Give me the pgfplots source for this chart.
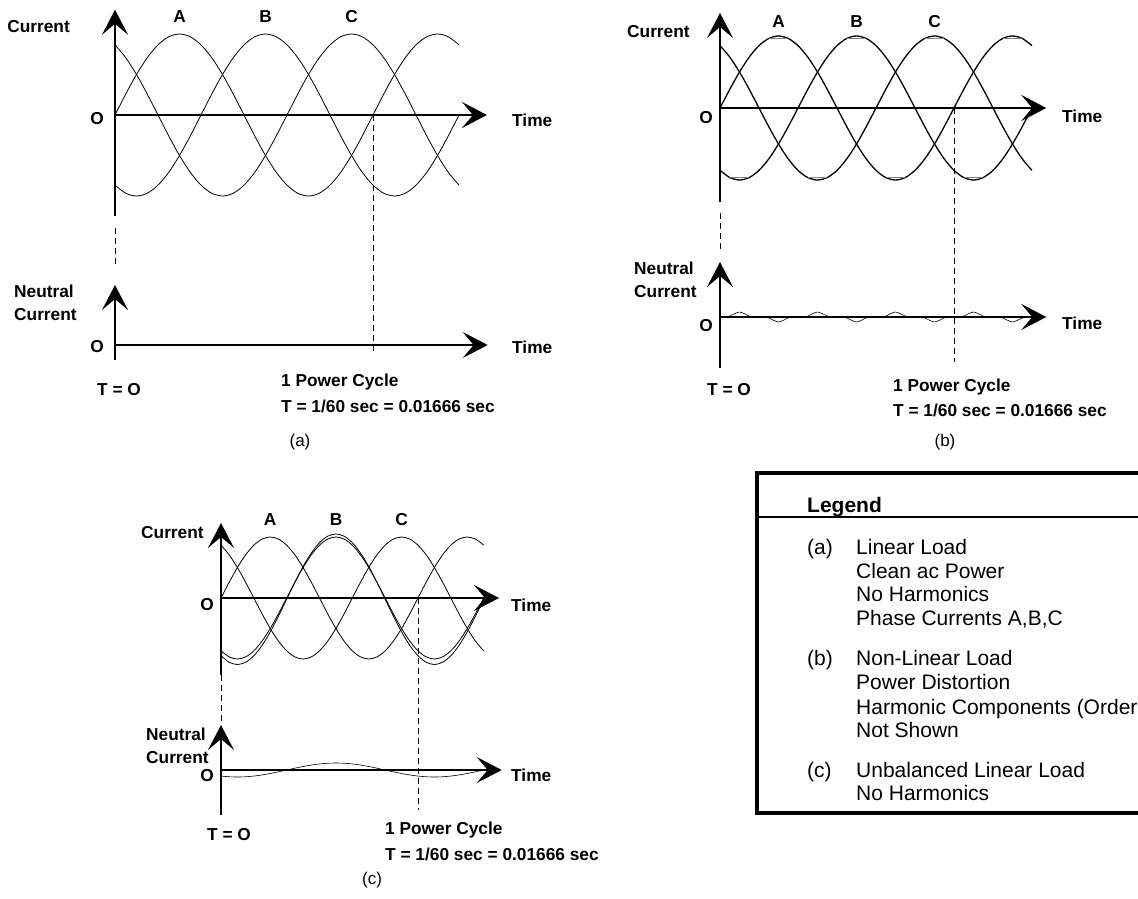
\documentclass[border=0pt]{standalone}
\usepackage{fontspec}
\setmainfont{Liberation Sans}
\usepackage{pgfplots}
\pgfplotsset{compat=1.18}
\usepackage{pgfplotstable}
\usetikzlibrary{arrows.meta}

% phase currents (per unit), angle in degrees; Bu = unbalanced phase B; Nc = neutral of (c) in px
\pgfplotstableread{
t A B C Bu Nc
0 0 -0.8660 0.8660 -0.9466 -6.06
15 0.2588 -0.9659 0.7071 -1.0535 -6.76
30 0.5 -1 0.5 -1.09 -7
45 0.7071 -0.9659 0.2588 -1.0535 -6.76
60 0.8660 -0.8660 0 -0.9466 -6.06
75 0.9659 -0.7071 -0.2588 -0.7766 -4.95
90 1 -0.5 -0.5 -0.555 -3.5
105 0.9659 -0.2588 -0.7071 -0.2969 -1.81
120 0.8660 0 -0.8660 -0.02 0
135 0.7071 0.2588 -0.9659 0.2569 1.81
150 0.5 0.5 -1 0.515 3.5
165 0.2588 0.7071 -0.9659 0.7366 4.95
180 0 0.8660 -0.8660 0.9066 6.06
195 -0.2588 0.9659 -0.7071 1.0135 6.76
210 -0.5 1 -0.5 1.05 7
225 -0.7071 0.9659 -0.2588 1.0135 6.76
240 -0.8660 0.8660 0 0.9066 6.06
255 -0.9659 0.7071 0.2588 0.7366 4.95
270 -1 0.5 0.5 0.515 3.5
285 -0.9659 0.2588 0.7071 0.2569 1.81
300 -0.8660 0 0.8660 -0.02 0
315 -0.7071 -0.2588 0.9659 -0.2969 -1.81
330 -0.5 -0.5 1 -0.555 -3.5
345 -0.2588 -0.7071 0.9659 -0.7766 -4.95
360 0 -0.8660 0.8660 -0.9466 -6.06
375 0.2588 -0.9659 0.7071 -1.0535 -6.76
390 0.5 -1 0.5 -1.09 -7
405 0.7071 -0.9659 0.2588 -1.0535 -6.76
420 0.8660 -0.8660 0 -0.9466 -6.06
435 0.9659 -0.7071 -0.2588 -0.7766 -4.95
450 1 -0.5 -0.5 -0.555 -3.5
465 0.9659 -0.2588 -0.7071 -0.2969 -1.81
480 0.8660 0 -0.8660 -0.02 0
}\phases

% neutral current of (b): third-harmonic ripple, px
\pgfplotstableread{
t N
0 0
10 0
20 2.5
30 5
40 2.5
50 0
70 0
80 -2.5
90 -5
100 -2.5
110 0
130 0
140 2.5
150 5
160 2.5
170 0
190 0
200 -2.5
210 -5
220 -2.5
230 0
250 0
260 2.5
270 5
280 2.5
290 0
310 0
320 -2.5
330 -5
340 -2.5
350 0
370 0
380 2.5
390 5
400 2.5
410 0
430 0
440 -2.5
450 -5
460 -2.5
470 0
480 0
}\neutralb

\tikzset{
  ax/.style={line width=2.6pt, -{Stealth[length=25pt,width=26pt,inset=11pt]}},
  lbl/.style={font=\bfseries\fontsize{17.3}{20}\selectfont, inner sep=0pt},
  lbl2/.style={font=\bfseries\fontsize{17.3}{23}\selectfont, inner sep=0pt, anchor=west, align=left},
  capt/.style={font=\fontsize{17}{20}\selectfont, inner sep=0pt},
  leg/.style={font=\fontsize{21}{24}\selectfont, inner sep=0pt, anchor=base west},
  dsh/.style={line width=0.8pt, dash pattern=on 6pt off 4pt},
}
\pgfplotsset{
  panel/.style={hide axis, clip=false, anchor=origin},
  curve/.style={black, line width=0.8pt, smooth, mark=none},
}

\begin{document}
\begin{tikzpicture}
\useasboundingbox (0pt,0pt) rectangle (1138pt,-899pt);
\clip (0pt,0pt) rectangle (1138pt,-899pt);

% ================= (a) =================
\begin{axis}[panel, at={(115pt,-115pt)}, x=0.7167pt, y=81pt, xmin=0, xmax=520, ymin=-1.3, ymax=1.3]
\addplot[curve] table[x=t,y=A]{\phases};
\addplot[curve] table[x=t,y=B]{\phases};
\addplot[curve] table[x=t,y=C]{\phases};
\draw[ax] (axis cs:0,-1.25) -- (axis cs:0,1.30);
\draw[ax] (axis cs:0,0) -- (axis cs:519,0);
\end{axis}
\begin{axis}[panel, at={(115pt,-345pt)}, x=0.7167pt, y=1pt, xmin=0, xmax=520, ymin=-15, ymax=60]
\addplot[curve] coordinates {(0,0) (480,0)};
\draw[ax] (axis cs:0,-15) -- (axis cs:0,60);
\draw[ax] (axis cs:0,0) -- (axis cs:520,0);
\end{axis}
\draw[dsh] (115pt,-228pt) -- (115pt,-268pt);
\draw[dsh] (373pt,-115pt) -- (373pt,-355pt);
\node[lbl, anchor=east] at (70pt,-27pt) {Current};
\node[lbl] at (179.5pt,-17pt) {A};
\node[lbl] at (265.5pt,-17pt) {B};
\node[lbl] at (351.5pt,-17pt) {C};
\node[lbl] at (97pt,-119pt) {O};
\node[lbl, anchor=west] at (512pt,-120pt) {Time};
\node[lbl2] at (14pt,-303pt) {Neutral\\Current};
\node[lbl] at (97pt,-347pt) {O};
\node[lbl, anchor=west] at (512pt,-347pt) {Time};
\node[lbl, anchor=west] at (97pt,-390pt) {T = O};
\node[lbl, anchor=west] at (281pt,-382pt) {1 Power Cycle};
\node[lbl, anchor=west] at (281pt,-406pt) {T = 1/60 sec = 0.01666 sec};
\node[capt] at (300pt,-442pt) {(a)};

% ================= (b) =================
\begin{axis}[panel, at={(720pt,-108pt)}, x=0.65pt, y=72pt, xmin=0, xmax=505, ymin=-1.35, ymax=1.35]
\addplot[curve, line width=1.3pt] table[x=t,y=A]{\phases};
\addplot[curve, line width=1.3pt] table[x=t,y=B]{\phases};
\addplot[curve, line width=1.3pt] table[x=t,y=C]{\phases};
\addplot[gray, line width=0.6pt, mark=none] coordinates {(75,0.965) (105,0.965)};
\addplot[gray, line width=0.6pt, mark=none] coordinates {(435,0.965) (465,0.965)};
\addplot[gray, line width=0.6pt, mark=none] coordinates {(195,0.965) (225,0.965)};
\addplot[gray, line width=0.6pt, mark=none] coordinates {(315,0.965) (345,0.965)};
\addplot[gray, line width=0.6pt, mark=none] coordinates {(15,-0.965) (45,-0.965)};
\addplot[gray, line width=0.6pt, mark=none] coordinates {(135,-0.965) (165,-0.965)};
\addplot[gray, line width=0.6pt, mark=none] coordinates {(255,-0.965) (285,-0.965)};
\addplot[gray, line width=0.6pt, mark=none] coordinates {(375,-0.965) (405,-0.965)};
\draw[ax] (axis cs:0,-1.31) -- (axis cs:0,1.32);
\draw[ax] (axis cs:0,0) -- (axis cs:502,0);
\end{axis}
\begin{axis}[panel, at={(720pt,-317pt)}, x=0.65pt, y=1pt, xmin=0, xmax=505, ymin=-51, ymax=55]
\addplot[curve, line width=0.6pt, tension=0.6] table[x=t,y=N]{\neutralb};
\draw[ax] (axis cs:0,-51) -- (axis cs:0,55);
\draw[ax] (axis cs:0,0) -- (axis cs:502,0);
\end{axis}
\draw[dsh] (720pt,-213pt) -- (720pt,-250pt);
\draw[dsh] (954pt,-108pt) -- (954pt,-362pt);
\node[lbl, anchor=west] at (627pt,-32pt) {Current};
\node[lbl] at (778.5pt,-22pt) {A};
\node[lbl] at (856.5pt,-22pt) {B};
\node[lbl] at (934.5pt,-22pt) {C};
\node[lbl] at (706pt,-118pt) {O};
\node[lbl, anchor=west] at (1062pt,-116pt) {Time};
\node[lbl2] at (634pt,-280pt) {Neutral\\Current};
\node[lbl] at (706pt,-326pt) {O};
\node[lbl, anchor=west] at (1062pt,-323pt) {Time};
\node[lbl, anchor=west] at (707pt,-390pt) {T = O};
\node[lbl, anchor=west] at (893pt,-387pt) {1 Power Cycle};
\node[lbl, anchor=west] at (893pt,-410pt) {T = 1/60 sec = 0.01666 sec};
\node[capt] at (945pt,-442pt) {(b)};

% ================= (c) =================
\begin{axis}[panel, at={(221pt,-598pt)}, x=0.5472pt, y=61pt, xmin=0, xmax=510, ymin=-1.3, ymax=1.3]
\addplot[curve] table[x=t,y=A]{\phases};
\addplot[curve] table[x=t,y=B]{\phases};
\addplot[curve] table[x=t,y=C]{\phases};
\addplot[curve] table[x=t,y=Bu]{\phases};
\draw[ax] (axis cs:0,-1.26) -- (axis cs:0,1.23);
\draw[ax] (axis cs:0,0) -- (axis cs:508,0);
\end{axis}
\begin{axis}[panel, at={(221pt,-770pt)}, x=0.5472pt, y=1pt, xmin=0, xmax=515, ymin=-45, ymax=45]
\addplot[curve, line width=0.6pt] table[x=t,y=Nc]{\phases};
\draw[ax] (axis cs:0,-45) -- (axis cs:0,45);
\draw[ax] (axis cs:0,0) -- (axis cs:513,0);
\end{axis}
\draw[dsh] (221pt,-675pt) -- (221pt,-723pt);
\draw[dsh] (418pt,-598pt) -- (418pt,-810pt);
\node[lbl, anchor=west] at (141pt,-533pt) {Current};
\node[lbl] at (270pt,-520pt) {A};
\node[lbl] at (336pt,-520pt) {B};
\node[lbl] at (401.5pt,-520pt) {C};
\node[lbl] at (207pt,-605pt) {O};
\node[lbl, anchor=west] at (511pt,-605pt) {Time};
\node[lbl2] at (146pt,-746pt) {Neutral\\Current};
\node[lbl] at (207pt,-776pt) {O};
\node[lbl, anchor=west] at (511pt,-775pt) {Time};
\node[lbl, anchor=west] at (207pt,-835pt) {T = O};
\node[lbl, anchor=west] at (385pt,-830pt) {1 Power Cycle};
\node[lbl, anchor=west] at (385pt,-854pt) {T = 1/60 sec = 0.01666 sec};
\node[capt] at (372pt,-880pt) {(c)};

% ================= Legend box =================
\draw[line width=3.5pt] (1160pt,-473pt) -- (757pt,-473pt) -- (757pt,-813pt) -- (1160pt,-813pt);
\draw[line width=2.5pt] (757pt,-517pt) -- (1160pt,-517pt);
\node[leg, font=\bfseries\fontsize{21}{24}\selectfont] at (807pt,-512.5pt) {Legend};
\node[leg] at (807pt,-554.5pt) {(a)};
\node[leg] at (856pt,-554.5pt) {Linear Load};
\node[leg] at (856pt,-578.5pt) {Clean ac Power};
\node[leg] at (856pt,-601.5pt) {No Harmonics};
\node[leg] at (856pt,-625.5pt) {Phase Currents A,B,C};
\node[leg] at (807pt,-665.5pt) {(b)};
\node[leg] at (856pt,-665.5pt) {Non-Linear Load};
\node[leg] at (856pt,-689.5pt) {Power Distortion};
\node[leg] at (856pt,-714.5pt) {Harmonic Components (Order};
\node[leg] at (856pt,-737.5pt) {Not Shown};
\node[leg] at (807pt,-777.5pt) {(c)};
\node[leg] at (856pt,-777.5pt) {Unbalanced Linear Load};
\node[leg] at (856pt,-800.5pt) {No Harmonics};
\end{tikzpicture}
\end{document}
